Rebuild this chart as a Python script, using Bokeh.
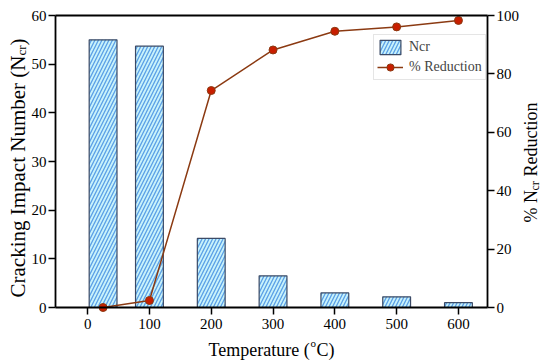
import math
from bokeh.plotting import figure
from bokeh.models import (Range1d, LinearAxis, FixedTicker, Label, Legend, LegendItem,
                          ColumnDataSource)
from bokeh.embed import file_html
from bokeh.resources import INLINE

# ---- data ----
temps = [25, 100, 200, 300, 400, 500, 600]
ncr = [55.0, 53.7, 14.2, 6.5, 3.0, 2.2, 1.0]
reduction = [0.0, 2.4, 74.3, 88.2, 94.6, 96.1, 98.3]
x_ticks = [0, 100, 200, 300, 400, 500, 600]
left_ticks = [0, 10, 20, 30, 40, 50, 60]
right_ticks = [0, 20, 40, 60, 80, 100]

FONT = "Liberation Serif"
W, H = 550, 364
X0, X1 = -52, 647          # x extent of the plotting box
Y0, Y1 = 0, 60             # left axis extent
P0, P1 = 0, 100            # right axis extent
FL, FR, FT, FB = 55, 487, 15, 307  # plotting box edges in px

SX = (X1 - X0) / (FR - FL)
SY = (Y1 - Y0) / (FB - FT)
SP = (P1 - P0) / (FB - FT)


def xd(px):
    return X0 + (px - FL) * SX


def yd(py):
    return Y0 + (FB - py) * SY


p = figure(width=W, height=H, output_backend="svg", toolbar_location=None,
           x_range=Range1d(X0 - FL * SX, X0 + (W - FL) * SX),
           y_range=Range1d(Y0 - (H - FB) * SY, Y1 + FT * SY),
           min_border=0, min_border_left=0, min_border_right=0,
           min_border_top=0, min_border_bottom=0)
p.extra_y_ranges = {"pct": Range1d(P0 - (H - FB) * SP, P1 + FT * SP)}
p.xgrid.visible = False
p.ygrid.visible = False
p.outline_line_color = None
p.background_fill_color = "white"
p.border_fill_color = "white"

src_bar = ColumnDataSource(dict(x=temps, top=ncr))
bars = p.vbar(x="x", top="top", width=45, bottom=0, source=src_bar,
              fill_color="#c8f2fb", line_color="#3b4a66", line_width=1.2,
              hatch_pattern="/", hatch_color="#5aa0e6", hatch_scale=7, hatch_weight=1.3)

src_line = ColumnDataSource(dict(x=temps, y=reduction))
ln = p.line("x", "y", source=src_line, y_range_name="pct", line_color="#8b3a12", line_width=1.5)
sc = p.scatter("x", "y", source=src_line, y_range_name="pct", size=8,
               fill_color="#c81e00", line_color="#8b3a12", line_width=1)


def style_axis(ax, tick_out=7, standoff=2):
    ax.axis_line_width = 1.8
    ax.axis_line_color = "black"
    ax.major_tick_line_width = 1.5
    ax.major_tick_out = tick_out
    ax.major_tick_in = 0
    ax.minor_tick_line_color = None
    ax.major_label_text_font = FONT
    ax.major_label_text_font_size = "15px"
    ax.major_label_text_color = "black"
    ax.major_label_standoff = standoff


xax = p.xaxis[0]
style_axis(xax, 7, 4)
xax.ticker = FixedTicker(ticks=x_ticks)
xax.fixed_location = Y0
xax.bounds = (X0, X1)

yax = p.yaxis[0]
style_axis(yax, 7, 2)
yax.ticker = FixedTicker(ticks=left_ticks)
yax.fixed_location = X0
yax.bounds = (Y0, Y1)

rax = LinearAxis(y_range_name="pct", ticker=FixedTicker(ticks=right_ticks))
style_axis(rax, 7, 2)
rax.fixed_location = X1
rax.bounds = (P0, P1)
p.add_layout(rax, "right")

tax = LinearAxis(ticker=FixedTicker(ticks=[]))
tax.axis_line_width = 1.8
tax.major_tick_line_color = None
tax.minor_tick_line_color = None
tax.major_label_text_font_size = "0px"
tax.fixed_location = Y1
tax.bounds = (X0, X1)
p.add_layout(tax, "above")

# legend
legend = Legend(items=[LegendItem(label="Ncr", renderers=[bars]),
                       LegendItem(label="% Reduction", renderers=[ln, sc])],
                location=(373, H - 80), label_text_font=FONT, label_text_font_size="14px",
                border_line_color="#cccccc", border_line_width=1, background_fill_alpha=1,
                glyph_width=26, glyph_height=18, spacing=2, padding=3, margin=0,
                label_standoff=6, label_height=18)
p.add_layout(legend, "center")


def lab(text, px, py, size, angle=0.0, align="left", baseline="alphabetic"):
    p.add_layout(Label(x=xd(px), y=yd(py), text=text, angle=angle, text_align=align,
                       text_baseline=baseline, text_font=FONT, text_font_size=size,
                       text_color="black"))


a = math.pi / 2
# left title: Cracking Impact Number (Ncr)
lab("Cracking Impact Number (N", 17, 55, "21px", a, "right")
lab("cr", 21, 55, "13px", a, "left")
lab(")", 17, 45, "21px", a, "left")

# right title: % Ncr Reduction
lab("% N", 530, 222, "18px", a, "left")
lab("cr", 534, 190, "12px", a, "left")
lab("Reduction", 530, 176, "18px", a, "left")

# x title: Temperature (oC)
lab("Temperature (", 208, 349, "18px", 0, "left")
lab("o", 310, 342, "11px", 0, "left")
lab("C)", 316, 349, "18px", 0, "left")

open("out.html", "w").write(file_html(p, INLINE))
